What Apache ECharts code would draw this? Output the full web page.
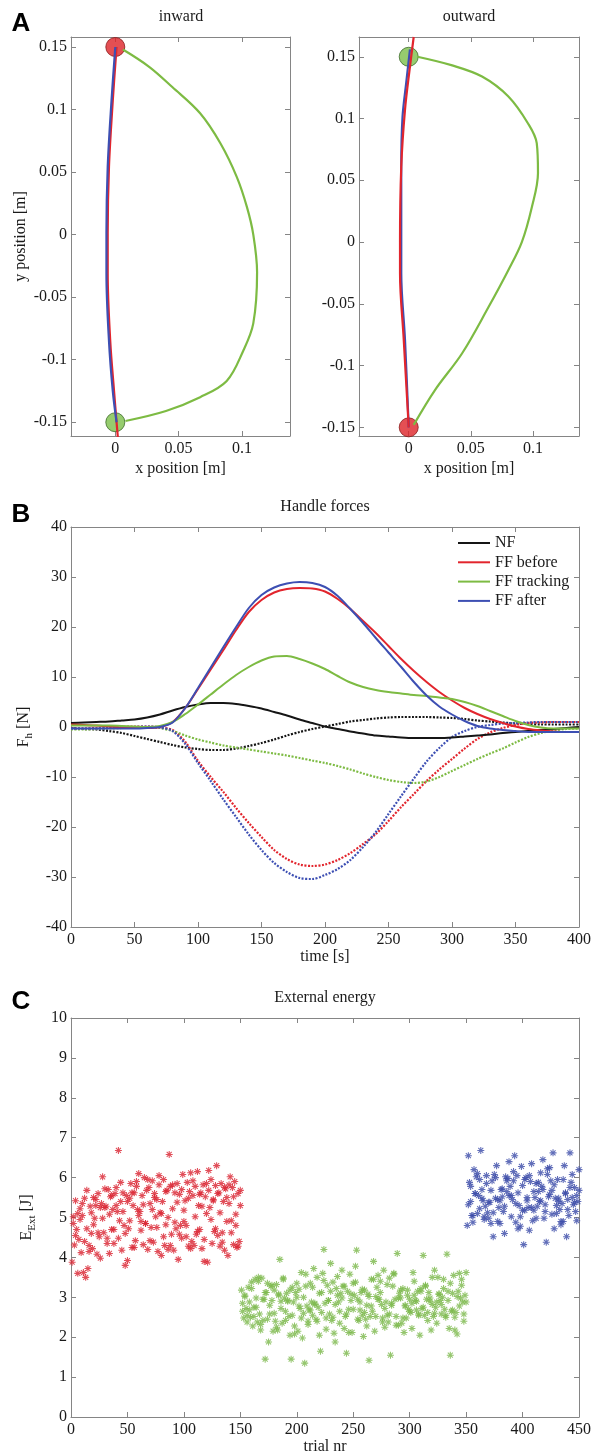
<!DOCTYPE html>
<html><head><meta charset="utf-8">
<script src="https://cdn.jsdelivr.net/npm/echarts@6/dist/echarts.min.js"></script>
<style>html,body{margin:0;padding:0;background:#fff}#c{width:595px;height:1456px}</style>
</head><body><div id="c"></div>
<script>
// ---------- tick labels ----------
const aTickX = [0, 0.05, 0.1];
const aTickY = [-0.15, -0.1, -0.05, 0, 0.05, 0.1, 0.15];
const bTickX = [0, 50, 100, 150, 200, 250, 300, 350, 400];
const bTickY = [-40, -30, -20, -10, 0, 10, 20, 30, 40];
const cTickX = [0, 50, 100, 150, 200, 250, 300, 350, 400, 450];
const cTickY = [0, 1, 2, 3, 4, 5, 6, 7, 8, 9, 10];

// ---------- panel A: hand paths [x, y] in m ----------
const inwardRed = [[0.001,0.150],[-0.002,0.107],[-0.005,0.054],[-0.006,0.001],[-0.006,-0.031],[-0.004,-0.085],[-0.001,-0.125],[0.001,-0.150],[0.002,-0.162]];
const inwardBlue = [[0.000,0.150],[-0.003,0.107],[-0.006,0.054],[-0.007,0.001],[-0.007,-0.031],[-0.005,-0.085],[-0.002,-0.125],[0.001,-0.150]];
const inwardGreen = [[0.006,0.148],[0.027,0.134],[0.045,0.118],[0.067,0.097],[0.083,0.073],[0.096,0.046],[0.104,0.022],[0.109,0.000],[0.112,-0.030],[0.109,-0.071],[0.101,-0.093],[0.088,-0.117],[0.067,-0.130],[0.040,-0.141],[0.008,-0.149]];
const inwardStart = [[0, 0.15]];
const inwardEnd = [[0, -0.15]];
const outwardRed = [[0.000,-0.150],[-0.004,-0.079],[-0.007,-0.025],[-0.007,0.000],[-0.006,0.061],[-0.003,0.107],[0.001,0.142],[0.004,0.166]];
const outwardBlue = [[0.000,-0.150],[-0.003,-0.079],[-0.006,-0.025],[-0.006,0.000],[-0.006,0.061],[-0.005,0.101],[-0.002,0.129],[0.001,0.156]];
const outwardGreen = [[0.004,-0.148],[0.021,-0.120],[0.043,-0.090],[0.064,-0.053],[0.080,-0.023],[0.091,0.000],[0.099,0.028],[0.104,0.056],[0.103,0.080],[0.096,0.096],[0.080,0.118],[0.059,0.134],[0.035,0.143],[0.007,0.150]];
const outwardStart = [[0, -0.15]];
const outwardEnd = [[0, 0.15]];

// ---------- panel B: handle forces [N] ----------
const timeS = [0,10,20,30,40,50,60,70,80,90,100,110,120,130,140,150,160,170,180,190,200,210,220,230,240,250,260,270,280,290,300,310,320,330,340,350,360,370,380,390,400];
const nfIn = [0.8,0.9,1.0,1.1,1.3,1.5,1.9,2.5,3.3,4.0,4.5,4.8,4.8,4.6,4.2,3.7,3.0,2.3,1.5,0.8,0.1,-0.4,-0.9,-1.3,-1.7,-1.9,-2.1,-2.2,-2.2,-2.2,-2.1,-1.9,-1.7,-1.5,-1.2,-1.0,-0.8,-0.6,-0.4,-0.2,0.0];
const nfOut = [-0.3,-0.4,-0.5,-0.8,-1.2,-1.8,-2.4,-3.0,-3.6,-4.1,-4.4,-4.6,-4.6,-4.3,-3.8,-3.2,-2.5,-1.7,-1.0,-0.4,0.1,0.6,1.1,1.4,1.7,1.9,2.0,2.0,2.0,1.9,1.8,1.6,1.3,1.1,0.9,0.7,0.6,0.5,0.5,0.5,0.5];
const beforeIn = [0.5,0.4,0.3,0.1,-0.1,-0.2,-0.2,0.0,1.0,3.8,7.6,11.5,15.4,19.4,23.0,25.4,26.9,27.6,27.8,27.7,27.1,25.6,23.6,21.2,18.8,16.2,13.6,11.2,9.0,7.0,5.3,3.8,2.6,1.6,0.8,0.1,-0.4,-0.7,-0.9,-1.0,-1.0];
const beforeOut = [-0.3,-0.3,-0.2,-0.1,0.0,0.1,0.1,-0.1,-0.6,-3.0,-6.8,-10.0,-13.0,-16.2,-19.2,-22.0,-24.6,-26.4,-27.5,-27.8,-27.5,-26.6,-25.2,-23.4,-21.4,-18.8,-16.0,-13.4,-10.8,-8.5,-6.4,-4.3,-2.4,-1.1,-0.2,0.4,0.8,0.9,1.0,1.0,1.0];
const trackingIn = [0.3,0.3,0.3,0.3,0.2,0.1,0.0,0.2,1.0,2.6,4.5,6.5,8.5,10.4,12.0,13.3,14.1,14.2,13.6,12.7,11.6,10.2,8.9,8.0,7.4,7.0,6.7,6.4,6.2,5.9,5.6,5.0,4.2,3.2,2.2,1.2,0.4,-0.1,-0.3,-0.3,-0.3];
const trackingOut = [-0.5,-0.5,-0.4,-0.3,-0.2,-0.1,0.0,-0.2,-0.8,-1.7,-2.5,-3.1,-3.7,-4.1,-4.5,-4.9,-5.3,-5.7,-6.2,-6.7,-7.2,-7.8,-8.5,-9.3,-10.0,-10.6,-11.0,-11.2,-10.9,-10.0,-8.8,-7.6,-6.4,-5.3,-4.3,-3.1,-2.0,-1.2,-0.7,-0.4,-0.3];
const afterIn = [-0.3,-0.3,-0.3,-0.3,-0.3,-0.3,-0.2,0.0,0.9,3.8,7.8,11.9,16.0,20.0,23.8,26.4,27.9,28.7,29.0,28.8,28.0,26.2,23.6,20.8,17.8,14.9,12.0,9.0,6.3,4.1,2.5,1.2,0.2,-0.3,-0.6,-0.8,-1.0,-1.0,-1.0,-1.0,-1.0];
const afterOut = [-0.3,-0.3,-0.3,-0.2,-0.1,0.0,0.1,-0.1,-0.8,-3.4,-7.2,-10.8,-14.5,-18.0,-21.5,-24.6,-27.2,-29.0,-30.2,-30.4,-29.6,-28.4,-26.6,-24.0,-21.0,-17.4,-13.8,-10.3,-6.9,-4.2,-2.0,-0.8,0.0,0.4,0.7,0.8,0.9,1.0,1.0,1.0,1.0];

// ---------- panel C: external energy [J] ----------
// main set: one value per trial; extra set: one more value on every second trial
const firstTrialBefore = 1, firstTrialTracking = 151, firstTrialAfter = 351;
const energyBefore = [
3.88,4.85,4.31,5.42,4.70,5.10,4.45,5.22,4.12,5.05,
3.62,5.48,3.50,4.72,3.72,4.30,5.28,4.60,4.22,5.50,
4.98,5.30,4.08,5.60,4.52,3.98,5.35,6.02,4.62,5.25,
5.28,4.48,5.70,4.10,5.52,4.70,5.20,4.35,5.60,5.75,
5.15,6.68,4.92,5.40,4.18,5.62,4.80,3.80,5.55,3.92,
4.72,5.48,5.85,4.25,5.30,5.62,4.42,5.90,5.20,6.10,
5.15,4.90,5.55,4.32,6.00,4.85,5.68,4.20,5.75,5.35,
4.75,5.92,4.38,5.60,5.02,5.45,4.15,5.82,5.12,4.05,
5.40,5.95,4.30,4.82,5.68,4.20,6.58,5.78,4.58,5.22,
4.18,5.62,4.72,5.85,3.95,5.58,4.80,4.48,6.08,4.90,
5.42,4.52,5.88,4.28,5.65,6.12,4.40,5.55,4.30,5.78,
4.58,6.15,5.30,4.70,5.62,4.22,5.82,3.90,5.52,5.10,
3.88,5.68,5.25,5.95,4.35,5.45,4.65,5.80,6.30,4.55,
5.62,4.28,5.85,4.62,5.40,4.18,5.72,5.50,4.05,5.82,
6.02,4.92,5.75,4.32,5.90,4.80,4.25,5.60,4.40,5.30];
const energyBeforeExtra = [
5.02,4.55,3.60,4.95,5.35,4.40,5.68,4.15,5.12,4.82,
5.45,4.62,5.25,4.98,5.72,4.35,5.08,5.55,4.70,5.30,
4.48,5.88,5.15,4.60,5.40,4.92,5.62,4.25,5.78,5.05,
4.68,5.32,4.85,5.95,4.42,5.20,5.50,4.75,6.05,5.10,
4.52,5.65,5.00,4.30,5.82,4.88,5.38,4.58,5.70,5.18,
4.80,5.48,4.22,5.92,5.02,4.65,5.58,5.28,4.45,5.85,
6.18,4.95,5.42,4.72,5.60,5.12,4.38,5.75,4.90,5.35,
4.62,5.52,5.08,4.28,5.68];
const energyTracking = [
3.18,2.85,2.48,3.05,2.72,2.55,3.25,2.68,2.50,3.38,
2.28,2.75,3.45,2.98,2.38,3.50,2.58,2.32,3.48,2.42,
2.95,1.45,3.12,3.35,1.88,2.58,3.28,2.92,2.15,3.18,
2.40,3.32,2.18,3.08,3.95,2.90,2.35,3.45,2.98,2.65,
3.10,2.92,2.52,2.05,1.45,3.25,2.88,2.28,3.12,3.00,
2.15,3.20,2.72,3.62,1.98,2.60,1.35,3.28,2.78,2.40,
2.68,3.35,2.88,2.55,3.72,2.82,2.45,3.50,2.75,2.05,
1.65,3.12,3.60,4.20,2.85,2.48,3.30,2.92,2.58,3.85,
2.42,3.38,2.10,1.88,3.22,3.05,2.88,2.65,3.10,3.68,
3.28,2.22,2.52,1.60,3.15,2.70,3.58,2.92,2.12,3.35,
3.05,3.78,4.18,2.95,2.42,2.68,3.12,2.55,2.02,3.18,
2.45,2.80,3.08,1.42,2.52,3.45,2.65,3.90,2.15,3.02,
3.25,3.55,2.95,3.40,2.82,2.48,3.68,2.25,2.88,2.55,
2.38,3.48,1.55,2.80,3.28,3.58,2.95,2.52,4.10,2.30,
3.10,2.98,2.35,3.22,2.12,2.78,2.48,3.18,2.70,2.95,
2.62,2.85,3.62,3.05,2.92,2.68,3.15,2.58,2.05,3.22,
2.72,4.05,2.55,3.30,2.95,2.62,3.12,2.90,2.18,2.82,
2.52,3.68,2.75,2.88,3.50,3.08,2.92,2.58,3.00,3.45,
2.70,2.55,4.08,3.15,2.22,1.55,2.65,3.10,3.55,2.50,
2.62,2.08,3.15,3.60,2.98,3.30,2.88,2.40,3.05,3.62];
const energyTrackingExtra = [
2.65,3.02,2.38,2.88,3.22,2.52,2.75,3.40,2.18,2.95,
3.12,2.45,2.80,3.30,2.60,2.25,3.05,2.72,3.48,2.42,
2.90,3.18,2.55,2.08,3.35,2.78,2.48,3.00,3.58,2.32,
2.68,3.25,2.85,2.40,3.10,2.62,3.42,2.20,2.92,3.15,
2.50,2.82,3.52,2.35,2.98,3.28,2.58,2.12,3.08,2.70,
3.38,2.45,2.88,3.20,2.62,2.28,3.02,2.78,3.45,2.52,
2.95,3.12,2.38,2.72,3.32,2.58,2.85,3.60,2.30,2.98,
3.18,2.48,2.80,3.05,2.65,2.22,3.40,2.90,2.55,3.15,
2.75,3.28,2.42,2.98,3.50,2.60,2.35,3.08,2.82,3.22,
2.50,2.92,3.35,2.68,2.18,3.02,2.78,3.45,2.58,2.88];
const energyAfter = [
4.80,6.55,5.88,5.40,5.05,4.88,6.20,5.60,6.02,5.10,
5.55,5.95,6.68,5.70,5.42,5.02,5.28,6.05,5.12,4.98,
5.38,4.85,5.92,4.52,6.08,5.48,6.30,4.90,5.25,5.42,
5.70,5.52,5.15,4.60,6.02,5.65,5.98,6.40,5.78,5.55,
5.45,5.92,6.55,4.88,6.05,4.72,5.30,5.02,6.28,5.18,
4.32,5.95,6.00,5.42,5.25,4.68,5.90,6.35,4.92,5.18,
5.50,5.85,5.28,5.65,5.40,6.12,5.78,6.45,4.98,5.32,
4.38,6.08,5.52,6.25,5.92,5.68,6.62,4.72,5.48,5.10,
5.95,5.40,5.20,4.82,5.35,4.90,6.30,5.60,4.52,5.45,
5.05,6.62,5.88,5.50,5.32,5.75,5.15,4.92,5.40,6.20];
const energyAfterExtra = [
5.32,5.78,5.05,5.60,6.10,5.22,5.48,4.95,5.85,5.38,
5.68,5.12,6.00,5.45,4.85,5.72,5.28,5.92,5.55,5.02,
6.15,5.35,5.62,4.78,5.80,5.18,5.50,6.05,5.25,5.65,
4.98,5.88,5.42,5.70,5.15,6.22,5.58,5.08,5.82,5.30,
5.48,4.90,5.95,5.62,5.20,5.75,6.08,5.38,5.55,5.68];

// ---------- styling ----------
const AX = '#858585', TX = '#1a1a1a', SERIF = 'Liberation Serif';
const RED = '#e2252d', GREEN = '#7dbb43', BLUE = '#3d4fb3', BLACK = '#151515';
const SC_RED = '#d9222f', SC_GREEN = '#7ab84a', SC_BLUE = '#3a4aa8';
const ASTER = 'path://M8.5,0h3v20h-3zM0,8.5h20v3h-20zM1.8,3.9l2.1,-2.1l14.3,14.3l-2.1,2.1zM16.1,1.8l2.1,2.1l-14.3,14.3l-2.1,-2.1z';
const labelStyle = {color: TX, fontFamily: SERIF, fontSize: 16};

function xAx(grid, min, max, ticks, top, name, gap) {
  return {
    type: 'value', gridIndex: grid, position: top ? 'top' : 'bottom', min: min, max: max,
    axisLine: {show: true, onZero: false, lineStyle: {color: AX, width: 1}},
    axisTick: {show: true, inside: true, length: 5, customValues: ticks, lineStyle: {color: AX}},
    axisLabel: Object.assign({show: !top, customValues: ticks, margin: 5}, labelStyle),
    splitLine: {show: false}, minorTick: {show: false},
    name: top ? '' : name, nameLocation: 'middle', nameGap: gap || 0,
    nameTextStyle: labelStyle
  };
}
function yAx(grid, min, max, ticks, right, name, gap, rich) {
  const ax = {
    type: 'value', gridIndex: grid, position: right ? 'right' : 'left', min: min, max: max,
    axisLine: {show: true, onZero: false, lineStyle: {color: AX, width: 1}},
    axisTick: {show: true, inside: true, length: 5, customValues: ticks, lineStyle: {color: AX}},
    axisLabel: Object.assign({show: !right, customValues: ticks, margin: 4}, labelStyle),
    splitLine: {show: false}, minorTick: {show: false},
    name: right ? '' : (name || ''), nameLocation: 'middle', nameGap: gap || 0,
    nameTextStyle: Object.assign({}, labelStyle)
  };
  if (rich) ax.nameTextStyle.rich = rich;
  return ax;
}
const subRich = {
  m: {fontFamily: SERIF, fontSize: 16, color: TX, lineHeight: 22, verticalAlign: 'middle'},
  s: {fontFamily: SERIF, fontSize: 11, color: TX, lineHeight: 11, verticalAlign: 'bottom'}
};

// axis index of grid g (bottom x / left y) is 2*g
function pathLine(name, data, color, g, z) {
  return {type: 'line', name: name, xAxisIndex: 2 * g, yAxisIndex: 2 * g, data: data, symbol: 'none',
    smooth: 0.35, lineStyle: {color: color, width: 2.2}, itemStyle: {color: color}, z: z || 3, silent: true, animation: false};
}
function dot(name, data, color, border, g) {
  return {type: 'scatter', name: name, xAxisIndex: 2 * g, yAxisIndex: 2 * g, data: data, symbol: 'circle', symbolSize: 19,
    itemStyle: {color: color, borderColor: border, borderWidth: 1}, z: 2, silent: true, animation: false};
}
function force(name, arr, color, dotted) {
  return {type: 'line', name: name, xAxisIndex: 4, yAxisIndex: 4, data: timeS.map((t, i) => [t, arr[i]]),
    symbol: 'none', smooth: 0.3, lineStyle: {color: color, width: dotted ? 2.2 : 2, type: dotted ? [2, 1.5] : 'solid'},
    itemStyle: {color: color}, z: dotted ? 3 : 4, animation: false};
}
function energy(name, arr, first, step, color) {
  return {type: 'scatter', name: name, xAxisIndex: 6, yAxisIndex: 6,
    data: arr.map((v, i) => [first + step * i, v]),
    symbol: ASTER, symbolSize: 7, itemStyle: {color: color}, animation: false, silent: true};
}

const chart = echarts.init(document.getElementById('c'), null, {renderer: 'canvas'});
chart.setOption({
  backgroundColor: '#ffffff',
  animation: false,
  grid: [
    {left: 71, top: 37, width: 219, height: 399, containLabel: false, outerBoundsMode: 'none'},
    {left: 359, top: 37, width: 220, height: 399, containLabel: false, outerBoundsMode: 'none'},
    {left: 71, top: 527, width: 508, height: 400, containLabel: false, outerBoundsMode: 'none'},
    {left: 71, top: 1018, width: 508, height: 399, containLabel: false, outerBoundsMode: 'none'}
  ],
  xAxis: [
    xAx(0, -0.035, 0.138, aTickX, false, 'x position [m]', 25), xAx(0, -0.035, 0.138, aTickX, true),
    xAx(1, -0.040, 0.137, aTickX, false, 'x position [m]', 25), xAx(1, -0.040, 0.137, aTickX, true),
    xAx(2, 0, 400, bTickX, false, 'time [s]', 22), xAx(2, 0, 400, bTickX, true),
    xAx(3, 0, 450, cTickX, false, 'trial nr', 22), xAx(3, 0, 450, cTickX, true)
  ],
  yAxis: [
    yAx(0, -0.161, 0.158, aTickY, false, 'y position [m]', 42), yAx(0, -0.161, 0.158, aTickY, true),
    yAx(1, -0.157, 0.166, aTickY, false, '', 0), yAx(1, -0.157, 0.166, aTickY, true),
    yAx(2, -40, 40, bTickY, false, '{m|F}{s|h}{m| [N]}', 34, subRich), yAx(2, -40, 40, bTickY, true),
    yAx(3, 0, 10, cTickY, false, '{m|E}{s|Ext}{m| [J]}', 33, subRich), yAx(3, 0, 10, cTickY, true)
  ],
  legend: {
    data: ['NF', 'FF before', 'FF tracking', 'FF after'], orient: 'vertical', left: 458, top: 535,
    icon: 'rect', itemWidth: 32, itemHeight: 2, itemGap: 3.3, padding: 0, selectedMode: false,
    textStyle: {color: TX, fontFamily: SERIF, fontSize: 16, lineHeight: 16}
  },
  graphic: [
    {type: 'text', x: 21, y: 24, style: {text: 'A', font: 'bold 26px "Liberation Sans"', fill: '#000', align: 'center', verticalAlign: 'middle', textAlign: 'center', textVerticalAlign: 'middle'}},
    {type: 'text', x: 21, y: 515, style: {text: 'B', font: 'bold 26px "Liberation Sans"', fill: '#000', align: 'center', verticalAlign: 'middle', textAlign: 'center', textVerticalAlign: 'middle'}},
    {type: 'text', x: 21, y: 1002, style: {text: 'C', font: 'bold 26px "Liberation Sans"', fill: '#000', align: 'center', verticalAlign: 'middle', textAlign: 'center', textVerticalAlign: 'middle'}},
    {type: 'text', x: 181, y: 17, style: {text: 'inward', font: '16px "Liberation Serif"', fill: TX, align: 'center', verticalAlign: 'middle', textAlign: 'center', textVerticalAlign: 'middle'}},
    {type: 'text', x: 469, y: 17, style: {text: 'outward', font: '16px "Liberation Serif"', fill: TX, align: 'center', verticalAlign: 'middle', textAlign: 'center', textVerticalAlign: 'middle'}},
    {type: 'text', x: 325, y: 507, style: {text: 'Handle forces', font: '16px "Liberation Serif"', fill: TX, align: 'center', verticalAlign: 'middle', textAlign: 'center', textVerticalAlign: 'middle'}},
    {type: 'text', x: 325, y: 998, style: {text: 'External energy', font: '16px "Liberation Serif"', fill: TX, align: 'center', verticalAlign: 'middle', textAlign: 'center', textVerticalAlign: 'middle'}}
  ],
  series: [
    dot('inward start', inwardStart, '#dd2328', '#8a1a1a', 0),
    dot('inward end', inwardEnd, '#7cbf4a', '#3d6b2a', 0),
    pathLine('inward FF before', inwardRed, RED, 0, 3),
    pathLine('inward FF after', inwardBlue, BLUE, 0, 4),
    pathLine('inward FF tracking', inwardGreen, GREEN, 0, 3),
    dot('outward start', outwardStart, '#dd2328', '#8a1a1a', 1),
    dot('outward end', outwardEnd, '#7cbf4a', '#3d6b2a', 1),
    pathLine('outward FF after', outwardBlue, BLUE, 1, 3),
    pathLine('outward FF before', outwardRed, RED, 1, 4),
    pathLine('outward FF tracking', outwardGreen, GREEN, 1, 3),
    force('NF', nfIn, BLACK, false),
    force('FF before', beforeIn, RED, false),
    force('FF tracking', trackingIn, GREEN, false),
    force('FF after', afterIn, BLUE, false),
    force('NF (outward)', nfOut, BLACK, true),
    force('FF before (outward)', beforeOut, RED, true),
    force('FF tracking (outward)', trackingOut, GREEN, true),
    force('FF after (outward)', afterOut, BLUE, true),
    energy('E before', energyBefore, firstTrialBefore, 1, SC_RED),
    energy('E before extra', energyBeforeExtra, firstTrialBefore + 1, 2, SC_RED),
    energy('E tracking', energyTracking, firstTrialTracking, 1, SC_GREEN),
    energy('E tracking extra', energyTrackingExtra, firstTrialTracking + 1, 2, SC_GREEN),
    energy('E after', energyAfter, firstTrialAfter, 1, SC_BLUE),
    energy('E after extra', energyAfterExtra, firstTrialAfter + 1, 2, SC_BLUE)
  ]
});
</script></body></html>
